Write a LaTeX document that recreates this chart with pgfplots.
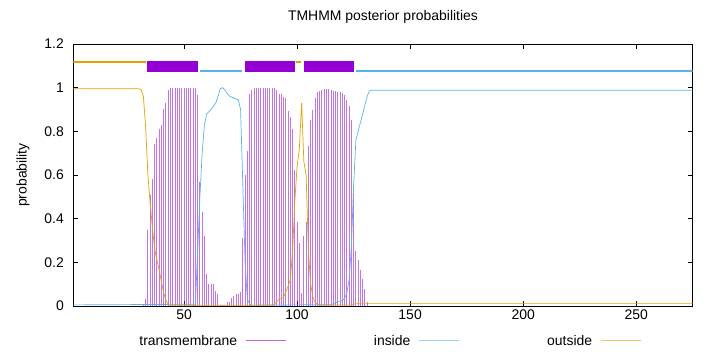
\documentclass[border=0pt]{standalone}
\usepackage{fontspec}
\setmainfont{Liberation Sans}
\usepackage{pgfplots}
\pgfplotsset{compat=1.18}
\definecolor{tmcol}{HTML}{9400D3}
\definecolor{incol}{HTML}{56B4E9}
\definecolor{outcol}{HTML}{E69F00}
\pgfplotstableread{
r v
32 0.005
33 0.03
34 0.35
35 0.51
36 0.58
37 0.74
38 0.77
39 0.81
40 0.83
41 0.90
42 0.93
43 0.99
44 0.998
45 1.0
46 1.0
47 1.0
48 1.0
49 1.0
50 1.0
51 1.0
52 1.0
53 1.0
54 1.0
55 0.998
56 0.965
57 0.57
58 0.43
59 0.32
60 0.146
61 0.10
62 0.10
63 0.10
64 0.07
65 0.054
66 0.005
67 0.003
68 0.005
69 0.018
70 0.018
71 0.035
72 0.046
73 0.054
74 0.054
75 0.063
76 0.31
77 0.60
78 0.71
79 0.97
80 0.99
81 1.0
82 1.0
83 1.0
84 1.0
85 1.0
86 1.0
87 1.0
88 1.0
89 1.0
90 0.998
91 0.989
92 0.972
93 0.969
94 0.957
95 0.954
96 0.895
97 0.865
98 0.811
99 0.624
100 0.384
101 0.289
102 0.061
103 0.32
104 0.386
105 0.734
106 0.85
107 0.899
108 0.954
109 0.98
110 0.987
111 0.99
112 0.995
113 0.995
114 0.995
115 0.991
116 0.985
117 0.983
118 0.98
119 0.98
120 0.977
121 0.968
122 0.942
123 0.918
124 0.853
125 0.519
126 0.25
127 0.21
128 0.166
129 0.124
130 0.077
131 0.02
}\tmdata
\pgfplotstableread{
r v
1 0.005
55 0.008
56 0.25
57 0.50
58 0.70
59 0.83
60 0.88
61 0.89
62 0.90
63 0.915
64 0.93
65 0.96
66 0.995
67 1.0
68 0.99
69 0.975
70 0.962
71 0.957
72 0.952
73 0.948
74 0.944
75 0.90
76 0.55
77 0.20
78 0.03
79 0.01
80 0.004
115 0.006
116 0.01
117 0.015
118 0.02
119 0.02
120 0.025
121 0.035
122 0.06
123 0.12
124 0.27
125 0.55
126 0.76
127 0.80
128 0.84
129 0.88
130 0.92
131 0.96
132 0.985
133 0.988
275 0.988
}\indata
\pgfplotstableread{
r v
1 0.995
30 0.995
31 0.99
32 0.96
33 0.82
34 0.60
35 0.47
36 0.36
37 0.26
38 0.21
39 0.165
40 0.11
41 0.06
42 0.025
43 0.008
44 0.003
88 0.003
89 0.005
90 0.01
91 0.02
92 0.03
93 0.035
94 0.04
95 0.065
96 0.09
97 0.12
98 0.25
99 0.48
100 0.64
101 0.72
102 0.93
103 0.66
104 0.60
105 0.25
106 0.10
107 0.04
108 0.015
109 0.008
110 0.005
124 0.005
125 0.008
126 0.012
275 0.012
}\outdata
\begin{document}
\begin{tikzpicture}
\path[use as bounding box] (-73.3bp,-46bp) rectangle (646.7bp,306bp);
\begin{axis}[
  scale only axis,
  width=619.4bp, height=262bp,
  xmin=1, xmax=275, ymin=0, ymax=1.2,
  xtick={50,100,150,200,250},
  ytick={0,0.2,0.4,0.6,0.8,1,1.2},
  tick align=inside,
  major tick length=5bp,
  minor tick num=0,
  axis line style={black, line width=0.5bp},
  every tick/.style={black, line width=0.5bp},
  font=\fontsize{14}{16}\selectfont,
  /pgf/number format/assume math mode=true,
  /pgf/number format/fixed,
  ticklabel style={font=\fontsize{14}{16}\selectfont},
  yticklabel style={xshift=-6bp},
  title={TMHMM posterior probabilities},
  title style={at={(0.5,1)}, anchor=base, yshift=18bp, font=\fontsize{14}{16}\selectfont},
  ylabel={probability},
  ylabel style={font=\fontsize{14}{16}\selectfont, yshift=8bp},
  legend columns=3,
  legend plot pos=right,
  legend cell align=right,
  legend image code/.code={\path (0bp,0bp); \draw[#1] (6bp,0bp) -- (46bp,0bp);},
  legend style={draw=none, fill=none, at={(0.51,-0.095)}, anchor=north,
    font=\fontsize{14}{16}\selectfont,
    /tikz/every even column/.append style={column sep=86bp}},
]
% impulses for transmembrane
\addplot[ycomb, tmcol, opacity=0.55, line width=1bp, no markers, forget plot] table[x=r, y=v] {\tmdata};
\addplot[incol, line width=0.7bp, no markers, forget plot] table[x=r, y=v] {\indata};
\addplot[outcol, line width=0.7bp, no markers, forget plot] table[x=r, y=v] {\outdata};
% topology bars
\addplot[outcol, line width=2.5bp, no markers, forget plot] coordinates {(1,1.118) (33,1.118)};
\addplot[outcol, line width=2.5bp, no markers, forget plot] coordinates {(99.7,1.118) (101.8,1.118)};
\addplot[incol, line width=2.5bp, no markers, forget plot] coordinates {(56.9,1.077) (75.8,1.077)};
\addplot[incol, line width=2.5bp, no markers, forget plot] coordinates {(126,1.077) (275,1.077)};
\addplot[fill=tmcol, draw=none, forget plot] coordinates {(33.8,1.072) (56.1,1.072) (56.1,1.121) (33.8,1.121)} --cycle;
\addplot[fill=tmcol, draw=none, forget plot] coordinates {(76.9,1.072) (99.0,1.072) (99.0,1.121) (76.9,1.121)} --cycle;
\addplot[fill=tmcol, draw=none, forget plot] coordinates {(103.1,1.072) (125.1,1.072) (125.1,1.121) (103.1,1.121)} --cycle;
\addlegendimage{tmcol, opacity=0.6, line width=0.8bp}
\addlegendentry{transmembrane}
\addlegendimage{incol, opacity=0.6, line width=0.8bp}
\addlegendentry{inside}
\addlegendimage{outcol, opacity=0.6, line width=0.8bp}
\addlegendentry{outside}
\end{axis}
\end{tikzpicture}
\end{document}
